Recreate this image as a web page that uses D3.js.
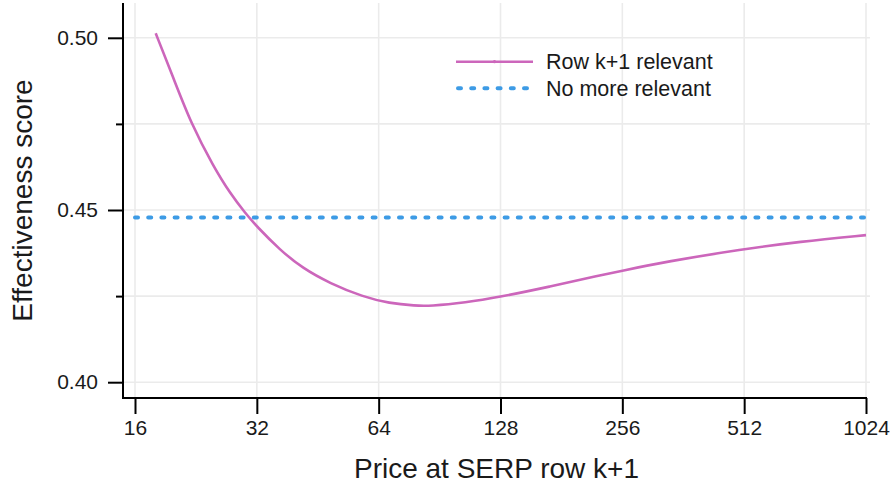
<!DOCTYPE html>
<html>
<head>
<meta charset="utf-8">
<script src="https://cdn.jsdelivr.net/npm/d3@7"></script>
<style>
  html, body { margin: 0; padding: 0; background: #fff; }
  svg text { font-family: "Liberation Sans", Arial, Helvetica, sans-serif; fill: #1a1a1a; }
</style>
</head>
<body>
<svg id="chart" width="893" height="487"></svg>
<script>
// ---- data ----
const relevantPrice = [18, 20, 22, 25, 27.5, 30, 32, 36.5, 41.5, 48.5, 58.5, 68, 79, 85.5, 105, 127, 169, 225, 254, 328, 507, 700, 1024];
const relevantScore = [0.5013, 0.4877, 0.4752, 0.4626, 0.4548, 0.4490, 0.4452, 0.4384, 0.4331, 0.4287, 0.4248, 0.4229, 0.4222, 0.4221, 0.4231, 0.4247, 0.4277, 0.4310, 0.4323, 0.4350, 0.4386, 0.4408, 0.4427];
const noMorePrice = [16, 1024];
const noMoreScore = [0.4478, 0.4478];
const xTicks = [16, 32, 64, 128, 256, 512, 1024];
const yMajorTicks = [0.40, 0.45, 0.50];
const yMinorTicks = [0.425, 0.475];
const seriesNames = ["Row k+1 relevant", "No more relevant"];
const xTitle = "Price at SERP row k+1";
const yTitle = "Effectiveness score";

// ---- layout ----
const svg = d3.select("#chart");
const plot = { left: 123, right: 870, top: 3, bottom: 398 };
const pink = "#CC66BB", blue = "#3D9BE5", grid = "#EBEBEB";

const x = d3.scaleLog().base(2).domain([16, 1024]).range([135, 866]);
const y = d3.scaleLinear().domain([0.40, 0.50]).range([382.2, 37.8]);

// grid
const g = svg.append("g");
g.selectAll(".vg").data(xTicks).join("line")
  .attr("x1", d => x(d)).attr("x2", d => x(d))
  .attr("y1", plot.top).attr("y2", plot.bottom)
  .attr("stroke", grid).attr("stroke-width", 1.6);
g.selectAll(".hg").data(yMajorTicks.concat(yMinorTicks)).join("line")
  .attr("x1", plot.left).attr("x2", plot.right)
  .attr("y1", d => y(d)).attr("y2", d => y(d))
  .attr("stroke", grid).attr("stroke-width", 1.6);

// series lines
const lineGen = d3.line().x(d => x(d[0])).y(d => y(d[1])).curve(d3.curveBasis);
svg.append("path")
  .datum(noMorePrice.map((p, i) => [p, noMoreScore[i]]))
  .attr("d", d3.line().x(d => x(d[0])).y(d => y(d[1])))
  .attr("fill", "none").attr("stroke", blue).attr("stroke-width", 4)
  .attr("stroke-linecap", "round").attr("stroke-dasharray", "3,10.2");
svg.append("path")
  .datum(relevantPrice.map((p, i) => [p, relevantScore[i]]))
  .attr("d", lineGen)
  .attr("fill", "none").attr("stroke", pink).attr("stroke-width", 2.6);

// axes
const xAxis = d3.axisBottom(x).tickValues(xTicks).tickFormat(d3.format("d")).tickSize(16).tickSizeOuter(0).tickPadding(6);
const xa = svg.append("g").attr("transform", `translate(0,${plot.bottom})`).call(xAxis);
xa.select(".domain").remove();
xa.selectAll(".tick line").attr("stroke", "#000").attr("stroke-width", 2);
xa.selectAll(".tick text").attr("font-size", 21).attr("fill", "#1a1a1a")
  .attr("font-family", "Liberation Sans, Arial, sans-serif");

const yAxis = d3.axisLeft(y).tickValues(yMajorTicks).tickFormat(d3.format(".2f")).tickSize(15).tickSizeOuter(0).tickPadding(10);
const ya = svg.append("g").attr("transform", `translate(${plot.left},0)`).call(yAxis);
ya.select(".domain").remove();
ya.selectAll(".tick line").attr("stroke", "#000").attr("stroke-width", 2);
ya.selectAll(".tick text").attr("font-size", 21).attr("fill", "#1a1a1a")
  .attr("font-family", "Liberation Sans, Arial, sans-serif");
const yMinor = d3.axisLeft(y).tickValues(yMinorTicks).tickFormat("").tickSize(7).tickSizeOuter(0);
const ym = svg.append("g").attr("transform", `translate(${plot.left},0)`).call(yMinor);
ym.select(".domain").remove();
ym.selectAll(".tick line").attr("stroke", "#000").attr("stroke-width", 2);

// axis lines
svg.append("line").attr("x1", plot.left).attr("x2", plot.left).attr("y1", plot.top).attr("y2", plot.bottom + 1)
  .attr("stroke", "#000").attr("stroke-width", 2);
svg.append("line").attr("x1", plot.left).attr("x2", x(1024) + 1).attr("y1", plot.bottom).attr("y2", plot.bottom)
  .attr("stroke", "#000").attr("stroke-width", 2);

// titles
svg.append("text").attr("x", (plot.left + plot.right) / 2).attr("y", 478)
  .attr("text-anchor", "middle").attr("font-size", 28).text(xTitle);
svg.append("text").attr("transform", `translate(32,${(plot.top + plot.bottom) / 2}) rotate(-90)`)
  .attr("text-anchor", "middle").attr("font-size", 28).text(yTitle);

// legend
const leg = svg.append("g");
const lx0 = 456, lx1 = 533, ly = [61.7, 88.3];
leg.append("line").attr("x1", lx0).attr("x2", lx1).attr("y1", ly[0]).attr("y2", ly[0])
  .attr("stroke", pink).attr("stroke-width", 2.6);
leg.append("circle").attr("cx", (lx0 + lx1) / 2).attr("cy", ly[0]).attr("r", 1.6).attr("fill", pink);
leg.append("line").attr("x1", lx0 + 2).attr("x2", lx1).attr("y1", ly[1]).attr("y2", ly[1])
  .attr("stroke", blue).attr("stroke-width", 4).attr("stroke-linecap", "round").attr("stroke-dasharray", "3,10.2");
leg.selectAll("text.lg").data(seriesNames).join("text")
  .attr("x", 546).attr("y", (d, i) => ly[i] + 7.5)
  .attr("font-size", 21.5).text(d => d);
</script>
</body>
</html>
